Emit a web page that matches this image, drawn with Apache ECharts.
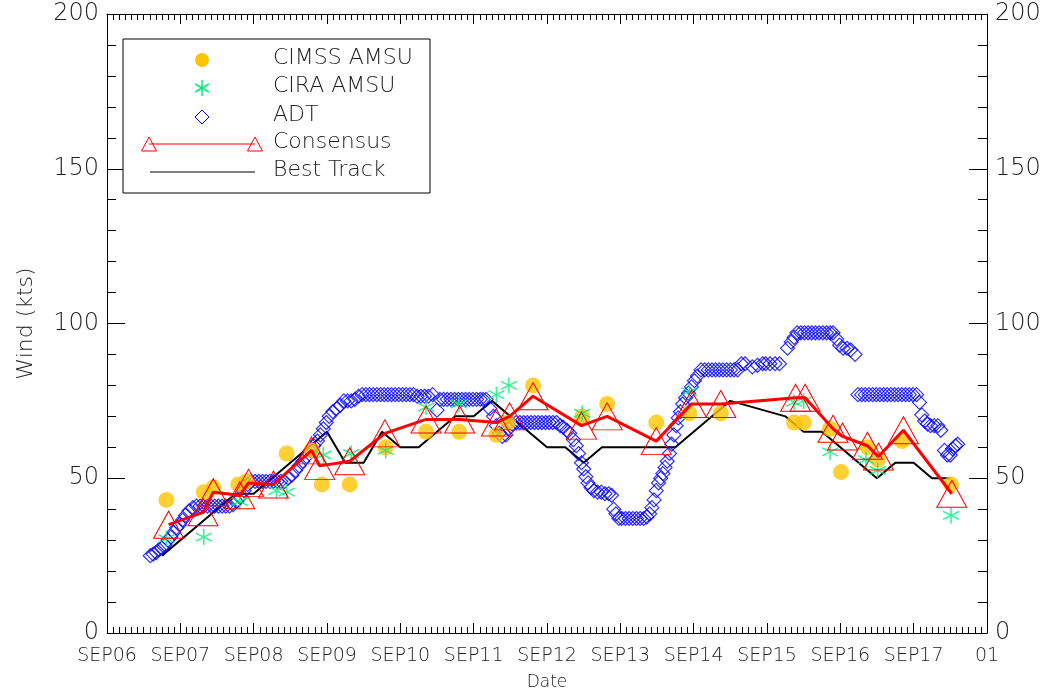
<!DOCTYPE html>
<html>
<head>
<meta charset="utf-8">
<script src="https://cdn.jsdelivr.net/npm/echarts@6/dist/echarts.min.js"></script>
<style>
  html, body { margin: 0; padding: 0; background: #fff; }
  #main { width: 1050px; height: 696px; }
</style>
</head>
<body>
<div id="main"></div>
<script>
// x = days since SEP06 00Z
var tickLabels = ['SEP06','SEP07','SEP08','SEP09','SEP10','SEP11','SEP12','SEP13','SEP14','SEP15','SEP16','SEP17','01'];

var bestTrack = [[0.75,25],[1.0,30],[1.25,35],[1.5,40],[1.75,45],[2.0,45],[2.25,50],[2.5,55],[2.75,60],[3.0,65],
  [3.25,55],[3.5,55],[3.75,65],[4.0,60],[4.25,60],[4.75,70],[5.0,70],[5.25,75],[6.0,60],[6.25,60],[6.5,55],
  [6.75,60],[7.75,60],[8.25,70],[8.5,75],[9.25,70],[9.5,65],[9.75,65],[10.5,50],[10.75,55],[11.0,55],[11.25,50],[11.5,50]];

var consensus = [[0.84,35],[1.31,39],[1.45,45.5],[1.81,44.5],[1.93,48.5],[2.27,48],[2.79,59],[2.9,54],[3.31,55.5],
  [3.79,64.5],[4.35,69],[4.81,69],[5.31,68],[5.49,70],[5.81,76.5],[6.47,67],[6.82,70],[7.49,62],[7.97,74],[8.37,74],
  [9.39,76],[9.52,76],[9.9,66],[10.03,63.5],[10.37,60.5],[10.52,57],[10.86,65.5],[11.52,45]];

var cimss = [[0.81,43],[1.32,45.5],[1.45,47],[1.79,48],[1.9,49],[2.45,58],[2.79,59],[2.93,48],[3.31,48],[3.8,60],
  [4.35,65],[4.8,65],[5.31,64],[5.47,68],[5.81,80],[6.48,70],[6.82,74],[7.49,68],[7.94,71],[8.37,71],[9.37,68],
  [9.5,68],[9.86,66],[10.01,52],[10.37,60],[10.51,56],[10.84,62],[11.51,48]];

var cira = [[0.81,30.5],[1.32,31],[1.81,42.5],[2.31,46],[2.45,45.5],[2.95,57.5],[3.33,58],[3.8,59],[4.35,73],[4.8,74],
  [5.31,77],[5.48,80],[6.48,71],[7.94,78],[9.37,74.5],[9.5,75],[9.86,58.5],[10.35,56],[10.51,52.5],[11.51,38]];

var adt = [[0.59,25],[0.63,25.5],[0.67,26],[0.71,27],[0.75,27.5],[0.79,28.5],[0.83,30],[0.87,31],[0.91,32.5],[0.95,34],
  [0.99,35],[1.03,36.5],[1.07,38],[1.12,39.5],[1.17,40.5],[1.22,41],[1.27,41],[1.32,41],[1.37,41],[1.42,41],[1.47,41],
  [1.52,41],[1.57,41],[1.62,41],[1.67,41],[1.72,41.5],[1.77,42.5],[1.82,44],[1.87,46],[1.92,48],[1.97,49],[2.02,49],
  [2.07,49],[2.12,49],[2.17,49],[2.22,49],[2.27,49],[2.32,49],[2.37,49],[2.42,49],[2.47,50],[2.52,51],[2.57,52.5],
  [2.62,54],[2.67,55.5],[2.72,57],[2.77,59],[2.82,60.5],[2.87,62],[2.91,64],[2.95,66],[2.99,68],[3.03,70],[3.08,71.5],
  [3.13,72.5],[3.18,73.5],[3.23,75],[3.28,75],[3.33,75],[3.38,75.5],[3.43,76.5],[3.48,77],[3.53,77],[3.58,77],[3.63,77],
  [3.68,77],[3.73,77],[3.78,77],[3.83,77],[3.88,77],[3.93,77],[3.98,77],[4.03,77],[4.08,77],[4.13,77],[4.18,77],
  [4.23,76.5],[4.28,76.5],[4.33,76.5],[4.38,76.5],[4.44,77],[4.5,72],[4.54,75.5],[4.59,75.5],[4.64,75.5],[4.69,75.5],
  [4.74,75.5],[4.79,75.5],[4.84,75.5],[4.89,75.5],[4.94,75.5],[4.99,75.5],[5.04,75.5],[5.09,75.5],[5.13,75.5],[5.17,75.5],
  [5.22,72.5],[5.27,70],[5.31,67],[5.35,64.5],[5.39,63.5],[5.44,64],[5.48,66],[5.53,67.5],[5.58,68],[5.63,68],[5.68,68],
  [5.73,68],[5.78,68],[5.83,68],[5.88,68],[5.93,68],[5.98,68],[6.03,68],[6.08,68],[6.13,68],[6.18,67],[6.22,66.5],
  [6.27,65.5],[6.31,64.5],[6.36,62.5],[6.4,60.5],[6.43,58],[6.47,55],[6.5,53],[6.53,50.5],[6.56,48.5],[6.6,47],[6.64,46],
  [6.69,45.5],[6.74,45.5],[6.79,45],[6.84,45],[6.88,44.5],[6.91,40],[6.94,38.5],[6.98,37],[7.02,37],[7.07,37],[7.12,37],
  [7.17,37],[7.22,37],[7.27,37],[7.32,37],[7.36,37.5],[7.4,38.5],[7.43,40.5],[7.46,43],[7.49,46],[7.52,48.5],[7.55,50],
  [7.58,51.5],[7.61,53.5],[7.64,55.5],[7.67,58],[7.7,61],[7.73,64],[7.76,67],[7.79,69.5],[7.82,71.5],[7.85,74],[7.89,76],
  [7.93,77.5],[7.97,79.5],[8.01,81.5],[8.05,83],[8.1,85],[8.15,85],[8.2,85],[8.25,85],[8.3,85],[8.35,85],[8.4,85],
  [8.45,85],[8.5,85],[8.55,85],[8.6,85],[8.65,87],[8.7,87],[8.8,86],[8.87,86.5],[8.94,87],[8.98,87],[9.04,87],[9.11,87],
  [9.17,87],[9.28,92],[9.33,94],[9.37,95.5],[9.41,97],[9.46,97],[9.51,97],[9.56,97],[9.61,97],[9.66,97],[9.71,97],
  [9.76,97],[9.81,97],[9.86,97],[9.9,97],[9.95,95],[9.99,93],[10.04,92],[10.09,92],[10.14,91.5],[10.2,90],[10.24,77],
  [10.29,77],[10.34,77],[10.39,77],[10.44,77],[10.49,77],[10.54,77],[10.59,77],[10.64,77],[10.69,77],[10.74,77],
  [10.79,77],[10.84,77],[10.89,77],[10.94,77],[10.99,77],[11.04,77],[11.08,74.5],[11.11,70.5],[11.15,68.5],[11.19,67.5],
  [11.23,67],[11.28,67],[11.33,67],[11.37,65.5],[11.42,59],[11.46,57.5],[11.5,57.5],[11.53,59.5],[11.57,60.5],[11.6,61]];

var FONT = 'DejaVu Sans';
var TXT = '#222';
var asterisk = 'path://M0,-8L0,8M-6.93,-4L6.93,4M-6.93,4L6.93,-4';

var chart = echarts.init(document.getElementById('main'));

function xAx(pos, showLabel) {
    return {
        type: 'value', min: 0, max: 12, interval: 1, position: pos,
        axisLine: { onZero: false, lineStyle: { color: '#000', width: 1 } },
        axisTick: { inside: true, length: 10, lineStyle: { color: '#000' } },
        minorTick: { show: true, splitNumber: 12, length: 6, lineStyle: { color: '#000' } },
        splitLine: { show: false },
        axisLabel: {
            show: showLabel, fontSize: 19, color: TXT, fontFamily: FONT, fontWeight: 200, margin: 14,
            formatter: function (v) { return tickLabels[Math.round(v)]; }
        },
        name: showLabel ? 'Date' : '', nameLocation: 'middle', nameGap: 41,
        nameTextStyle: { fontSize: 17, color: TXT, fontFamily: FONT, fontWeight: 200 }
    };
}

function yAx(pos, showName) {
    return {
        type: 'value', min: 0, max: 200, interval: 50, position: pos,
        axisLine: { show: true, onZero: false, lineStyle: { color: '#000', width: 1 } },
        axisTick: { show: true, inside: true, length: 18, lineStyle: { color: '#000' } },
        minorTick: { show: true, splitNumber: 5, length: 9, lineStyle: { color: '#000' } },
        splitLine: { show: false },
        axisLabel: { fontSize: 24, color: TXT, fontFamily: FONT, fontWeight: 200, margin: 8 },
        name: showName ? 'Wind (kts)' : '', nameLocation: 'middle', nameGap: 70, nameRotate: 90,
        nameTextStyle: { fontSize: 22, color: TXT, fontFamily: FONT, fontWeight: 200 }
    };
}

function legendText(y, s) {
    return { type: 'text', left: 273, top: y - 13, z: 11,
        style: { text: s, fontSize: 22, fill: TXT, fontFamily: FONT, fontWeight: 200 } };
}
function legLine(x1, y1, x2, y2, color, w) {
    return { type: 'line', z: 11, shape: { x1: x1, y1: y1, x2: x2, y2: y2 }, style: { stroke: color, lineWidth: w } };
}

var option = {
    backgroundColor: '#fff',
    animation: false,
    grid: { left: 107, right: 63, top: 14, bottom: 56 },
    xAxis: [xAx('bottom', true), xAx('top', false)],
    yAxis: [yAx('left', true), yAx('right', false)],
    series: [
        {
            name: 'Best Track', type: 'line', data: bestTrack, symbol: 'none',
            lineStyle: { color: '#000', width: 2 }, z: 2
        },
        {
            name: 'ADT', type: 'scatter', data: adt, symbol: 'diamond', symbolSize: 14,
            itemStyle: { color: 'rgba(0,0,0,0)', borderColor: '#0000ff', borderWidth: 1.2 }, z: 3
        },
        {
            name: 'CIMSS AMSU', type: 'scatter', data: cimss, symbol: 'circle', symbolSize: 16,
            itemStyle: { color: '#ffc400' }, z: 4
        },
        {
            name: 'CIRA AMSU', type: 'scatter', data: cira, symbol: asterisk, symbolSize: 16,
            itemStyle: { color: 'rgba(0,0,0,0)', borderColor: '#00ee77', borderWidth: 1.5 }, z: 5
        },
        {
            name: 'Consensus', type: 'line', data: consensus, symbol: 'triangle', symbolSize: [30, 27],
            showAllSymbol: true,
            itemStyle: { color: 'rgba(0,0,0,0)', borderColor: '#ff0000', borderWidth: 1 },
            lineStyle: { color: '#ff0000', width: 3 }, z: 6
        }
    ],
    graphic: [
        { type: 'rect', z: 10, shape: { x: 123, y: 39, width: 307, height: 154 }, style: { fill: '#fff', stroke: '#000', lineWidth: 1 } },
        { type: 'circle', z: 11, shape: { cx: 202, cy: 60, r: 7 }, style: { fill: '#ffc400' } },
        legLine(202, 80, 202, 96, '#00ee77', 1.5),
        legLine(195.1, 84, 208.9, 92, '#00ee77', 1.5),
        legLine(195.1, 92, 208.9, 84, '#00ee77', 1.5),
        { type: 'polygon', z: 11, shape: { points: [[202, 110], [209, 117], [202, 124], [195, 117]] }, style: { fill: 'rgba(0,0,0,0)', stroke: '#0000ff', lineWidth: 1 } },
        legLine(149, 144, 255, 144, '#ff0000', 1),
        { type: 'polygon', z: 11, shape: { points: [[149, 137], [156.5, 151], [141.5, 151]] }, style: { fill: 'rgba(0,0,0,0)', stroke: '#ff0000', lineWidth: 1 } },
        { type: 'polygon', z: 11, shape: { points: [[255, 137], [262.5, 151], [247.5, 151]] }, style: { fill: 'rgba(0,0,0,0)', stroke: '#ff0000', lineWidth: 1 } },
        legLine(150, 172, 255, 172, '#000', 1),
        legendText(60, 'CIMSS AMSU'),
        legendText(88, 'CIRA AMSU'),
        legendText(117, 'ADT'),
        legendText(144, 'Consensus'),
        legendText(172, 'Best Track')
    ]
};

chart.setOption(option);
window.addEventListener('resize', function () {
    chart.resize();
});
</script>
</body>
</html>
